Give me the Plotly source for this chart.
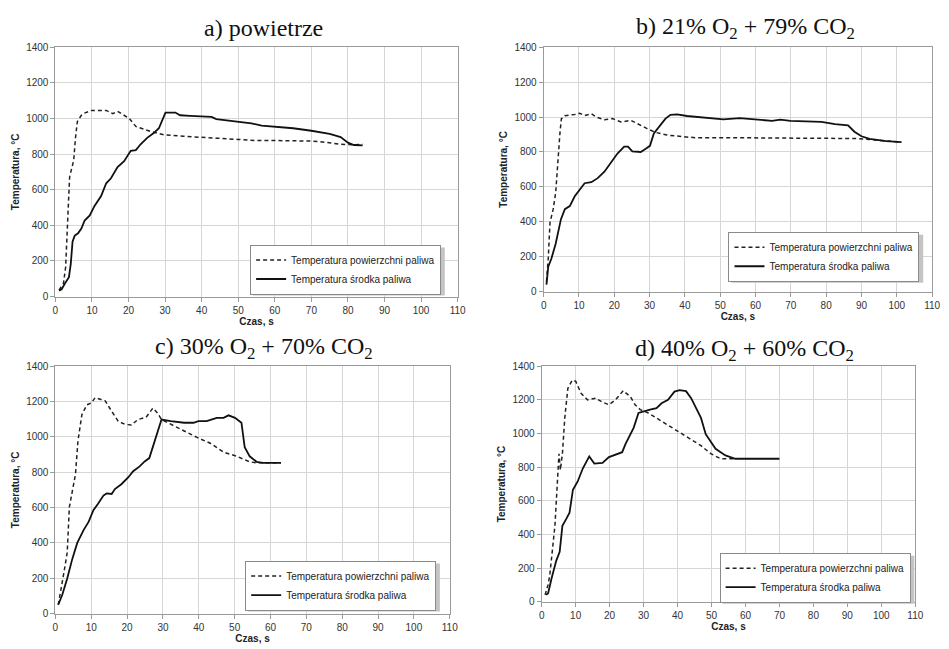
import plotly.graph_objects as go

# ---------------- data: time [s] and temperature [°C] ----------------
# a) powietrze
a_surf_t = [1, 2.2, 2.8, 3.2, 3.5, 3.9, 4.4, 5.0, 5.5, 6.0, 7.1, 7.6, 9.8, 13.9, 15.7, 17.0, 20.2, 22.0, 26.0, 29.6,
            35, 40, 45, 50, 55, 60, 65, 70, 73, 78, 82, 84]
a_surf_T = [36, 73, 164, 309, 491, 673, 718, 764, 891, 982, 1018, 1027, 1045, 1045, 1027, 1040, 1000, 955, 927, 909,
            900, 896, 888, 882, 876, 876, 875, 873, 868, 855, 852, 855]
a_core_t = [1, 1.7, 2.6, 3.7, 4.2, 4.7, 5.3, 6.2, 7.1, 8.0, 9.4, 10.7, 12.5, 13.9, 15.2, 17.0, 18.8, 20.6, 22.0, 23.3,
            25.1, 26.9, 28.3, 30.1, 32.8, 34.1, 36.8, 40.2, 42.7, 44, 50, 53.6, 56.4, 60, 65, 70, 75, 78, 80, 81.6, 84]
a_core_T = [33, 40, 73, 109, 182, 309, 342, 355, 382, 427, 455, 509, 564, 636, 664, 727, 760, 818, 822, 855,
            891, 918, 945, 1033, 1033, 1018, 1015, 1013, 1009, 996, 982, 973, 960, 955, 945, 931, 913, 895, 864, 851, 849]

# b) 21% O2 + 79% CO2
b_surf_t = [0.8, 1.3, 1.8, 2.7, 3.4, 3.9, 4.6, 5.0, 6.0, 8.8, 10.2, 11.6, 13.5, 14.9, 17.2, 19.5, 21.9, 24.7, 26.5,
            29.3, 31.7, 34.9, 39.6, 42.9, 50, 60, 70.7, 80, 89, 95, 99.6, 101.3]
b_surf_T = [58, 190, 397, 472, 566, 735, 904, 989, 1008, 1015, 1022, 1009, 1019, 1000, 985, 991, 972, 981, 962,
            934, 912, 897, 887, 882, 882, 882, 880, 878, 877, 867, 858, 856]
b_core_t = [0.8, 1.3, 2.2, 3.4, 4.9, 6.0, 7.4, 8.8, 10.2, 11.6, 13.5, 15.3, 17.2, 19.1, 20.9, 22.8, 23.9, 25.1, 27.5,
            28.9, 30.1, 31.2, 32.6, 34.5, 35.9, 37.8, 40.6, 44.3, 48.1, 50.9, 55.5, 60, 64.7, 67, 69.9, 78.7, 82.5,
            86.2, 88, 90, 92.3, 97, 100, 101.3]
b_core_T = [40, 143, 190, 274, 415, 472, 490, 546, 584, 621, 627, 650, 687, 743, 791, 830, 830, 803, 800,
            818, 835, 906, 944, 991, 1013, 1015, 1006, 1000, 994, 987, 994, 987, 978, 985, 978, 972, 959,
            953, 916, 890, 875, 862, 858, 856]

# c) 30% O2 + 70% CO2
c_surf_t = [0.8, 1.5, 2.4, 3.3, 3.9, 5.6, 6.3, 7.4, 8.8, 10.0, 11.1, 12.5, 13.9, 15.7, 17.5, 19.4, 21.2, 23.0, 25.3,
            27.2, 28.5, 29.6, 32.2, 35.9, 39.5, 43.2, 46.9, 50.6, 54.2, 56.1, 62.9]
c_surf_T = [50, 124, 234, 345, 603, 788, 978, 1126, 1182, 1191, 1222, 1213, 1204, 1145, 1089, 1071, 1067, 1098, 1111,
            1163, 1135, 1098, 1071, 1034, 997, 964, 914, 890, 859, 853, 853]
c_core_t = [0.8, 1.9, 3.3, 4.7, 6.1, 7.9, 9.3, 10.6, 11.9, 13.4, 14.3, 15.7, 16.6, 18.4, 20.3, 21.7, 23.5, 24.9, 26.2,
            27.6, 28.5, 29.6, 32.2, 35.9, 38.5, 39.9, 42.2, 45.0, 46.9, 48.3, 50.1, 51.9, 52.8, 54.2, 56.1, 57.9, 62.9]
c_core_T = [50, 105, 198, 308, 400, 474, 520, 585, 621, 668, 680, 677, 705, 732, 770, 806, 833, 861, 880,
            972, 1037, 1098, 1089, 1080, 1080, 1089, 1089, 1108, 1108, 1122, 1108, 1080, 942, 890, 859, 853, 853]

# d) 40% O2 + 60% CO2
d_surf_t = [1.0, 1.9, 2.4, 3.9, 4.5, 5.1, 5.5, 6.1, 6.8, 7.7, 9.0, 10.0, 11.6, 13.5, 15.9, 17.9, 19.8, 21.7, 24.0,
            26.1, 27.5, 29.0, 31.4, 35.3, 39.1, 43.0, 46.9, 49.8, 52.7, 56.5]
d_surf_T = [41, 103, 161, 452, 666, 880, 783, 880, 1093, 1268, 1317, 1311, 1239, 1200, 1210, 1186, 1171, 1200, 1254,
            1219, 1171, 1142, 1122, 1074, 1025, 977, 928, 880, 850, 850]
d_core_t = [1.3, 1.9, 2.9, 4.3, 5.3, 6.1, 7.2, 8.2, 9.2, 10.6, 12.1, 14.0, 15.5, 17.9, 19.8, 22.2, 23.7, 24.7, 27.1,
            28.5, 30.0, 31.9, 33.8, 35.3, 37.2, 39.1, 40.6, 42.5, 44.0, 46.9, 48.3, 51.2, 54.1, 57.0, 70.0]
d_core_T = [41, 51, 138, 245, 297, 452, 491, 530, 666, 715, 792, 864, 821, 825, 860, 880, 889, 938, 1035,
            1122, 1132, 1142, 1151, 1180, 1200, 1249, 1258, 1252, 1210, 1093, 996, 909, 870, 850, 850]

titles = ["a) powietrze",
          "b) 21% O<sub>2</sub> + 79% CO<sub>2</sub>",
          "c) 30% O<sub>2</sub> + 70% CO<sub>2</sub>",
          "d) 40% O<sub>2</sub> + 60% CO<sub>2</sub>"]
surf_name = "Temperatura powierzchni paliwa"
core_name = "Temperatura środka paliwa"
x_ticks = list(range(0, 111, 10))
y_ticks = list(range(0, 1401, 200))

panels = [
    (a_surf_t, a_surf_T, a_core_t, a_core_T),
    (b_surf_t, b_surf_T, b_core_t, b_core_T),
    (c_surf_t, c_surf_T, c_core_t, c_core_T),
    (d_surf_t, d_surf_T, d_core_t, d_core_T),
]

# ---------------- layout geometry (pixels) ----------------
W, H = 949, 649
# plot areas: left, right, top, bottom
boxes = [(53, 460, 42, 296), (547, 940, 42, 291), (53, 452, 367, 619), (545, 923, 367, 607)]
# legend top-left corners and approximate rendered legend size (for the drop shadow)
leg_pos = [(250, 243), (734, 230), (245, 565), (725, 557)]
LEG_W, LEG_H = 194, 49
# title centre x and middle y
title_pos = [(264, 22), (751, 22), (264, 348), (750, 350)]

TICKFONT = dict(family="Liberation Sans, Arial, sans-serif", size=10, color="#333333")
AXTITLE = dict(family="Liberation Sans, Arial, sans-serif", size=10, color="#222222")

fig = go.Figure()
layout = dict(width=W, height=H, margin=dict(l=0, r=0, t=0, b=0),
              paper_bgcolor="white", plot_bgcolor="white", showlegend=True)
annotations = []
shapes = []

for i, (st, sT, ct, cT) in enumerate(panels):
    n = "" if i == 0 else str(i + 1)
    leg = "legend" + n
    fig.add_trace(go.Scatter(x=st, y=sT, mode="lines", name=surf_name,
                             line=dict(color="#222222", width=1.5, dash="4px,3px"),
                             xaxis="x" + n, yaxis="y" + n, legend=leg))
    fig.add_trace(go.Scatter(x=ct, y=cT, mode="lines", name=core_name,
                             line=dict(color="#111111", width=1.8),
                             xaxis="x" + n, yaxis="y" + n, legend=leg))
    l, r, t, b = boxes[i]
    layout["xaxis" + n] = dict(
        domain=[l / W, r / W], anchor="y" + n, range=[0, 110], tickvals=x_ticks,
        showgrid=True, gridcolor="#d6d6d6", gridwidth=1, zeroline=False,
        showline=True, linecolor="#9a9a9a", linewidth=1, mirror=True,
        ticks="outside", ticklen=4, tickcolor="#9a9a9a", tickfont=TICKFONT,
        title=dict(text="<b>Czas, s</b>", font=AXTITLE, standoff=2))
    layout["yaxis" + n] = dict(
        domain=[1 - b / H, 1 - t / H], anchor="x" + n, range=[0, 1400], tickvals=y_ticks,
        showgrid=True, gridcolor="#d6d6d6", gridwidth=1, zeroline=False,
        showline=True, linecolor="#9a9a9a", linewidth=1, mirror=True,
        ticks="outside", ticklen=4, tickcolor="#9a9a9a", tickfont=TICKFONT,
        title=dict(text="<b>Temperatura, °C</b>", font=AXTITLE, standoff=4))
    lx, ly = leg_pos[i]
    layout[leg] = dict(x=lx / W, y=1 - ly / H, xanchor="left", yanchor="top",
                       bgcolor="white", bordercolor="#8a8a8a", borderwidth=1,
                       font=dict(family="Liberation Sans, Arial, sans-serif", size=10, color="#222222"),
                       tracegroupgap=0)
    # soft drop shadow behind the legend box
    shapes.append(dict(type="rect", xref="paper", yref="paper", layer="above",
                       x0=(lx + 3) / W, x1=(lx + LEG_W + 3) / W,
                       y0=1 - (ly + LEG_H + 3) / H, y1=1 - (ly + 3) / H,
                       fillcolor="#c4c4c4", line=dict(width=0)))
    tx, ty = title_pos[i]
    annotations.append(dict(text=titles[i], x=tx / W, y=1 - ty / H, xref="paper", yref="paper",
                            xanchor="center", yanchor="middle", showarrow=False,
                            font=dict(family="Liberation Serif, Times New Roman, serif", size=24, color="#111111")))

layout["annotations"] = annotations
layout["shapes"] = shapes
fig.update_layout(**layout)
fig.write_html("out.html")
